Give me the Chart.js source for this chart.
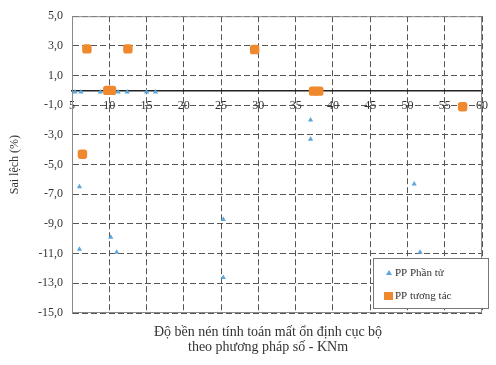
<!DOCTYPE html>
<html>
<head>
<meta charset="utf-8">
<script src="https://cdn.jsdelivr.net/npm/chart.js@4/dist/chart.umd.min.js"></script>
<style>
  html, body { margin: 0; padding: 0; background: #fff; }
  #wrap { width: 496px; height: 365px; }
</style>
</head>
<body>
<div id="wrap"><canvas id="c" width="496" height="365"></canvas></div>
<script>
// Series names
const seriesNames = ['PP Phần tử', 'PP tương tác'];

// Deviation of the finite-element method (%)
const phanTuX = [5.4, 6.2, 8.8, 11.2, 12.4, 15.0, 16.2, 6.0, 6.0, 10.2, 11.0, 25.3, 25.3, 37.0, 37.0, 50.9, 51.7];
const phanTuY = [-0.1, -0.1, -0.1, -0.1, -0.1, -0.1, -0.1, -6.5, -10.7, -9.9, -10.9, -8.7, -12.6, -2.0, -3.3, -6.3, -10.9];

// Deviation of the interaction method (%)
const tuongTacX = [7.0, 12.5, 29.5, 9.8, 10.3, 37.4, 38.1, 6.4, 57.4];
const tuongTacY = [2.8, 2.8, 2.75, 0.0, 0.0, -0.05, -0.05, -4.3, -1.1];

// Axis ticks
const xTicks = [5, 10, 15, 20, 25, 30, 35, 40, 45, 50, 55, 60];
const yTicks = [5, 3, 1, -1, -3, -5, -7, -9, -11, -13, -15];

// Axis titles
const yTitle = 'Sai lệch (%)';
const xTitleLines = ['Độ bền nén tính toán mất ổn định cục bộ', 'theo phương pháp số - KNm'];

const FONT = 'Liberation Serif';
const TEXT = '#333';
const BLUE = '#5ba6dc';
const ORANGE = '#f0882e';

const toPoints = (xs, ys) => xs.map((x, i) => ({ x, y: ys[i] }));

const decor = {
  id: 'decor',
  afterDraw(chart) {
    const { ctx, chartArea: a } = chart;
    ctx.save();
    // plot frame
    ctx.strokeStyle = '#8a8a8a';
    ctx.lineWidth = 1;
    ctx.setLineDash([]);
    ctx.strokeRect(a.left + 0.5, a.top + 0.5, a.right - a.left - 1, a.bottom - a.top - 1);

    // legend box inside the plot, lower right
    const bx = 373, by = 258, bw = 115, bh = 50;
    ctx.fillStyle = '#fff';
    ctx.fillRect(bx, by, bw, bh);
    ctx.strokeStyle = '#777';
    ctx.strokeRect(bx + 0.5, by + 0.5, bw, bh);
    ctx.font = '11px "' + FONT + '"';
    ctx.textBaseline = 'middle';
    ctx.textAlign = 'left';
    const ds = chart.data.datasets;
    // entry 1
    ctx.fillStyle = ds[0].backgroundColor;
    ctx.beginPath();
    ctx.moveTo(389, 270); ctx.lineTo(392, 275); ctx.lineTo(386, 275); ctx.closePath();
    ctx.fill();
    ctx.fillStyle = TEXT;
    ctx.fillText(ds[0].label, 395, 273);
    // entry 2
    ctx.fillStyle = ds[1].backgroundColor;
    ctx.fillRect(384, 292, 9, 8);
    ctx.fillStyle = TEXT;
    ctx.fillText(ds[1].label, 395, 296);

    // horizontal axis title below the plot
    ctx.font = '14px "' + FONT + '"';
    ctx.textAlign = 'center';
    ctx.fillText(xTitleLines[0], 268, 332);
    ctx.fillText(xTitleLines[1], 268, 347);
    ctx.restore();
  }
};

new Chart(document.getElementById('c'), {
  type: 'scatter',
  data: {
    datasets: [
      {
        label: seriesNames[0],
        data: toPoints(phanTuX, phanTuY),
        backgroundColor: BLUE,
        borderColor: BLUE,
        pointStyle: 'triangle',
        pointRadius: 3,
        borderWidth: 0
      },
      {
        label: seriesNames[1],
        data: toPoints(tuongTacX, tuongTacY),
        backgroundColor: ORANGE,
        borderColor: ORANGE,
        pointStyle: 'rectRounded',
        pointRadius: 5.5,
        borderWidth: 0
      }
    ]
  },
  options: {
    responsive: false,
    animation: false,
    devicePixelRatio: 1,
    layout: { padding: { left: 8, top: 13, right: 7, bottom: 52 } },
    plugins: {
      legend: { display: false },
      tooltip: { enabled: false }
    },
    scales: {
      x: {
        type: 'linear',
        position: { y: 0 },
        min: 5,
        max: 60,
        afterBuildTicks: s => { s.ticks = xTicks.map(v => ({ value: v })); },
        ticks: {
          autoSkip: false,
          maxRotation: 0,
          padding: 8,
          color: TEXT,
          font: { family: FONT, size: 12 }
        },
        grid: { color: '#555', lineWidth: 1, drawTicks: false },
        border: { display: true, color: '#222', width: 1.5, dash: [6, 3] }
      },
      y: {
        type: 'linear',
        min: -15,
        max: 5,
        afterBuildTicks: s => { s.ticks = yTicks.map(v => ({ value: v })); },
        afterFit: s => { s.width = 64; },
        ticks: {
          padding: 9,
          color: TEXT,
          font: { family: FONT, size: 12 },
          callback: v => v.toFixed(1).replace('.', ',')
        },
        title: {
          display: true,
          text: yTitle,
          color: TEXT,
          font: { family: FONT, size: 12 },
          padding: { top: 0, bottom: 6 }
        },
        grid: { color: '#555', lineWidth: 1, drawTicks: false },
        border: { display: true, color: '#8a8a8a', width: 1, dash: [6, 3] }
      }
    }
  },
  plugins: [decor]
});
</script>
</body>
</html>
